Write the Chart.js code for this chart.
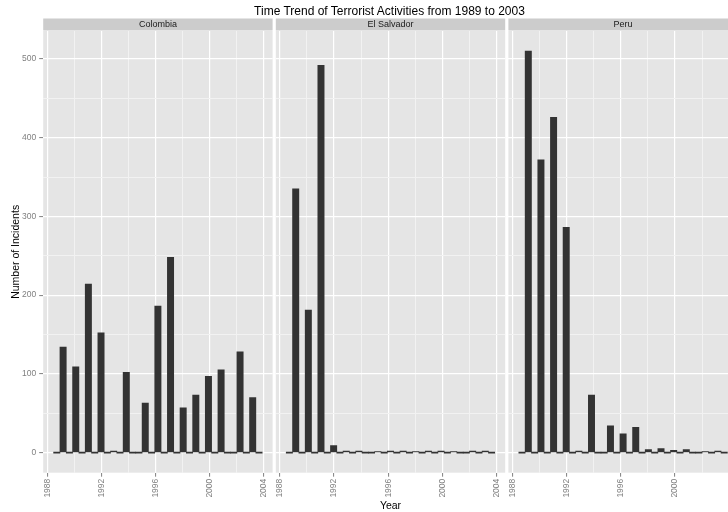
<!DOCTYPE html>
<html>
<head>
<meta charset="utf-8">
<script src="https://cdn.jsdelivr.net/npm/chart.js@4.4.1/dist/chart.umd.min.js"></script>
<style>
  html, body { margin: 0; padding: 0; background: #fff; }
  #wrap { position: relative; width: 728px; height: 512px; overflow: hidden; font-family: "Liberation Sans", Arial, sans-serif; }
  #wrap canvas { position: absolute; left: 0; top: 0; }
  #title { position: absolute; left: 0; top: 4px; width: 779px; text-align: center; font-size: 12px; line-height: 14px; color: #000; }
</style>
</head>
<body>
<div id="wrap">
  <canvas id="c0" width="760" height="512"></canvas>
  <canvas id="c1" width="760" height="512"></canvas>
  <canvas id="c2" width="760" height="512"></canvas>
  <div id="title">Time Trend of Terrorist Activities from 1989 to 2003</div>
</div>
<script>
const countries = ['Colombia', 'El Salvador', 'Peru'];
const years = [1989, 1990, 1991, 1992, 1993, 1994, 1995, 1996, 1997, 1998, 1999, 2000, 2001, 2002, 2003];
const colombia = [134, 109, 214, 152, 2, 102, 63, 186, 248, 57, 73, 97, 105, 128, 70];
const elSalvador = [335, 181, 492, 9, 2, 2, 1, 2, 2, 1, 2, 2, 1, 2, 2];
const peru = [510, 372, 426, 286, 2, 73, 34, 24, 32, 4, 5, 3, 4, 1, 2];

const xTicks = [1988, 1990, 1992, 1994, 1996, 1998, 2000, 2002, 2004];
const xLabelTicks = [1988, 1992, 1996, 2000, 2004];
const yTicks = [0, 50, 100, 150, 200, 250, 300, 350, 400, 450, 500];
const yLabelTicks = [0, 100, 200, 300, 400, 500];

// layout of the three facets (the last one runs past the right edge, as in the original)
const W = 760;
const visibleW = 728;
const panelLeft = [43.2, 275.8, 508.4];
const panelWidth = 229.4;
const panelTop = 31;
const stripTop = 18.5;
const xAxisH = 39.3;

Chart.defaults.font.family = '"Liberation Sans", Arial, sans-serif';

// histogram with 30 bins over the year range (like stat_bin), padded with an empty bin each side
const bw = (years[years.length - 1] - years[0]) / 30;
const binStart = Math.floor(years[0] / bw) * bw;
const nBins = Math.ceil((years[years.length - 1] - binStart) / bw);

function histogram(counts) {
  const bins = [];
  for (let i = -1; i <= nBins; i++) bins.push({ x: binStart + (i + 0.5) * bw, y: 0 });
  years.forEach((yr, k) => {
    const b = Math.floor((yr - binStart) / bw + 1e-6);
    bins[b + 1].y += counts[k];
  });
  return bins;
}

const lo = binStart - bw, hi = binStart + (nBins + 1) * bw;
const xMin = lo - 0.05 * (hi - lo), xMax = hi + 0.05 * (hi - lo);
const yMaxData = Math.max(...colombia, ...elSalvador, ...peru);
const yMin = -0.05 * yMaxData, yMax = 1.05 * yMaxData;

const stripPlugin = {
  id: 'strip',
  beforeDraw(chart, args, opts) {
    const { ctx, chartArea: a } = chart;
    ctx.save();
    ctx.fillStyle = '#e5e5e5';
    ctx.fillRect(a.left, a.top, a.width, a.height);
    ctx.fillStyle = '#cccccc';
    ctx.fillRect(a.left, stripTop, a.width, a.top - stripTop - 0.5);
    ctx.fillStyle = '#1a1a1a';
    ctx.font = '9px "Liberation Sans", Arial, sans-serif';
    ctx.textAlign = 'center';
    ctx.textBaseline = 'middle';
    ctx.fillText(opts.text, (a.left + a.right) / 2, (stripTop + a.top) / 2);
    ctx.restore();
  }
};

function makeChart(p, counts) {
  const first = p === 0;
  const majorX = c => c.tick && xLabelTicks.includes(c.tick.value);
  const majorY = c => c.tick && yLabelTicks.includes(c.tick.value);
  // last year whose label still fits inside the cropped picture
  const lastVisible = xMin + (visibleW - 2 - panelLeft[p]) * (xMax - xMin) / panelWidth;
  return new Chart(document.getElementById('c' + p), {
    type: 'bar',
    data: {
      datasets: [{
        data: histogram(counts),
        backgroundColor: '#333333',
        barPercentage: 1,
        categoryPercentage: 1,
        minBarLength: 1
      }]
    },
    options: {
      responsive: false,
      animation: false,
      events: [],
      layout: {
        autoPadding: false,
        padding: { left: first ? 0 : panelLeft[p], right: W - panelLeft[p] - panelWidth, top: panelTop, bottom: 0 }
      },
      plugins: {
        legend: { display: false },
        tooltip: { enabled: false },
        strip: { text: countries[p] }
      },
      scales: {
        x: {
          type: 'linear',
          min: xMin,
          max: xMax,
          offset: false,
          afterBuildTicks: s => { s.ticks = xTicks.map(v => ({ value: v })); },
          afterFit: s => { s.height = xAxisH; s.paddingLeft = 0; s.paddingRight = 0; },
          ticks: {
            autoSkip: false, minRotation: 90, maxRotation: 90, padding: 2,
            color: '#7f7f7f', font: { size: 8.5 },
            callback: v => (xLabelTicks.includes(v) && v <= lastVisible) ? String(v) : ''
          },
          grid: {
            offset: false,
            color: c => majorX(c) ? '#ffffff' : '#f2f2f2',
            lineWidth: c => majorX(c) ? 1.2 : 1,
            tickColor: c => majorX(c) ? '#7f7f7f' : 'rgba(0,0,0,0)',
            tickLength: 4,
            tickWidth: 1
          },
          border: { display: false },
          title: { display: p === 1, text: 'Year', color: '#000', font: { size: 10.5 }, padding: 0 }
        },
        y: {
          min: yMin,
          max: yMax,
          afterBuildTicks: s => { s.ticks = yTicks.map(v => ({ value: v })); },
          afterFit: s => { s.width = first ? panelLeft[0] : 0; s.paddingTop = 0; s.paddingBottom = 0; },
          ticks: {
            display: first, padding: 3,
            color: '#7f7f7f', font: { size: 8.5 },
            callback: v => yLabelTicks.includes(v) ? String(v) : ''
          },
          grid: {
            color: c => majorY(c) ? '#ffffff' : '#f2f2f2',
            lineWidth: c => majorY(c) ? 1.2 : 1,
            drawTicks: first,
            tickColor: c => majorY(c) ? '#7f7f7f' : 'rgba(0,0,0,0)',
            tickLength: 4,
            tickWidth: 1
          },
          border: { display: false },
          title: {
            display: first, text: 'Number of Incidents', color: '#000',
            font: { size: 10.5 }, padding: { top: 9.7, bottom: 0 }
          }
        }
      }
    },
    plugins: [stripPlugin]
  });
}

makeChart(0, colombia);
makeChart(1, elSalvador);
makeChart(2, peru);
</script>
</body>
</html>
